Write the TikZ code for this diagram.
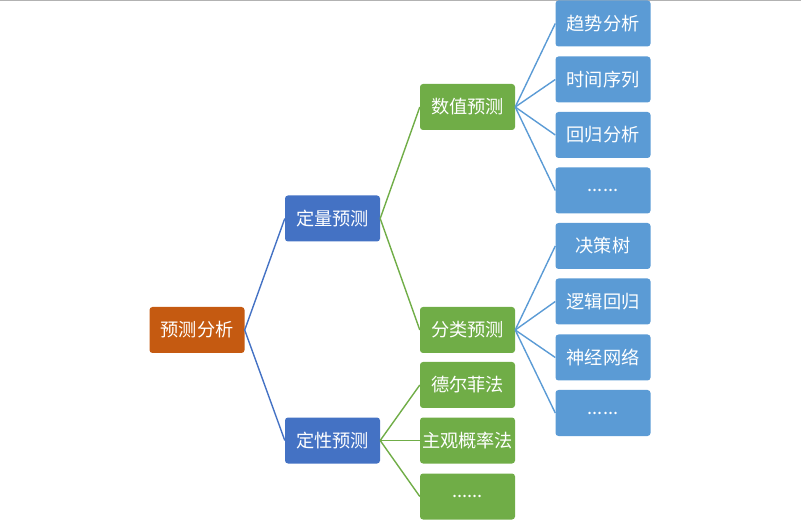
\documentclass[tikz,border=0pt]{standalone}
\usepackage{fontspec}
\setmainfont{Noto Sans CJK SC}
\usetikzlibrary{positioning}

\definecolor{rootorange}{HTML}{C55A11}
\definecolor{midblue}{HTML}{4472C4}
\definecolor{leafgreen}{HTML}{70AD47}
\definecolor{lightblue}{HTML}{5B9BD5}
\newcommand{\moredots}{......}

\begin{document}
\begin{tikzpicture}[
    x=1pt, y=-1pt,
    box/.style={rectangle, rounded corners=3pt, minimum width=95pt, minimum height=46pt,
        inner sep=0pt, text=white, font=\fontsize{18.2}{21}\selectfont},
    rootbox/.style={box, fill=rootorange},
    catbox/.style={box, fill=midblue},
    methbox/.style={box, fill=leafgreen},
    algbox/.style={box, fill=lightblue},
    link/.style={line width=1.4pt}
]
    \useasboundingbox (0,0) rectangle (801,521);
    \draw[gray!60, line width=1.2pt] (0,0.6) -- (801,0.6);

    % Root and categories
    \node[rootbox] (root) at (197,330) {预测分析};
    \node[catbox] (quant) at (332.5,218.5) {定量预测};
    \node[catbox] (qual) at (332.5,440.5) {定性预测};

    % Methods
    \node[methbox] (num) at (467.5,107) {数值预测};
    \node[methbox] (cls) at (467.5,330) {分类预测};
    \node[methbox] (delphi) at (467.5,385) {德尔菲法};
    \node[methbox] (subj) at (467.5,440.5) {主观概率法};
    \node[methbox] (qualmore) at (467.5,496.5) {\moredots};

    % Algorithms
    \foreach \i/\y/\t in {1/23.5/趋势分析, 2/79.5/时间序列, 3/135/回归分析, 4/190.5/\moredots} {
        \node[algbox] (n\i) at (603,\y) {\t};
        \draw[link, lightblue] (num.east) -- (n\i.west);
    }
    \foreach \i/\y/\t in {1/246/决策树, 2/301.5/逻辑回归, 3/357.5/神经网络, 4/413/\moredots} {
        \node[algbox] (c\i) at (603,\y) {\t};
        \draw[link, lightblue] (cls.east) -- (c\i.west);
    }

    % Connectors
    \draw[link, midblue] (root.east) -- (quant.west);
    \draw[link, midblue] (root.east) -- (qual.west);
    \draw[link, leafgreen] (quant.east) -- (num.west);
    \draw[link, leafgreen] (quant.east) -- (cls.west);
    \draw[link, leafgreen] (qual.east) -- (delphi.west);
    \draw[link, leafgreen] (qual.east) -- (subj.west);
    \draw[link, leafgreen] (qual.east) -- (qualmore.west);

\end{tikzpicture}
\end{document}
